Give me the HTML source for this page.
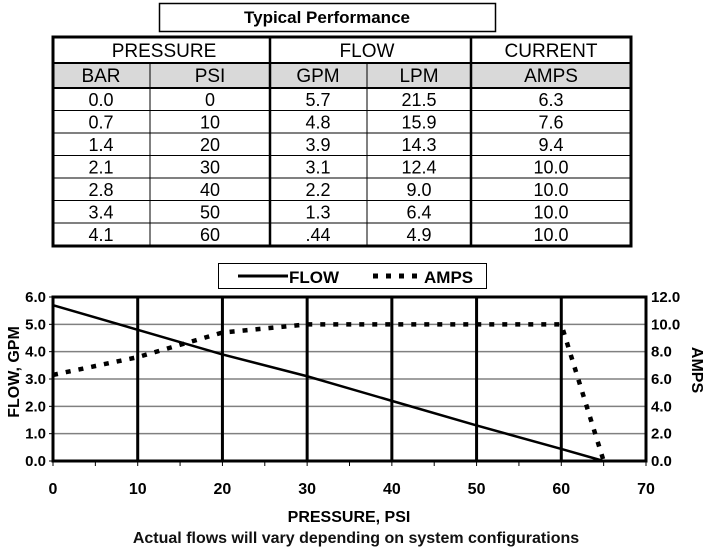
<!DOCTYPE html>
<html><head><meta charset="utf-8"><style>
body{margin:0;background:#fff;width:708px;height:550px;overflow:hidden;font-family:"Liberation Sans",Arial,sans-serif}
svg{display:block}
</style></head><body>
<svg id="s" width="708" height="550" xmlns="http://www.w3.org/2000/svg">
<g>
<rect x="159.5" y="3.5" width="336" height="28" fill="#fff" stroke="#000" stroke-width="1.5"/>
<text x="327" y="23" font-size="17" font-weight="bold" text-anchor="middle">Typical Performance</text>
</g>
<g id="tbl"></g>
<g id="chart"></g>
</svg>
<script>
const psi=[0,10,20,30,40,50,60,65];
const flowGpm=[5.7,4.8,3.9,3.1,2.2,1.3,0.44,0];
const amps=[6.3,7.6,9.4,10,10,10,10,0];
const xTicks=[0,10,20,30,40,50,60,70];
const yLeftTicks=[0,1,2,3,4,5,6];
const yRightTicks=[0,2,4,6,8,10,12];
const tableRows=[["0.0","0","5.7","21.5","6.3"],["0.7","10","4.8","15.9","7.6"],["1.4","20","3.9","14.3","9.4"],["2.1","30","3.1","12.4","10.0"],["2.8","40","2.2","9.0","10.0"],["3.4","50","1.3","6.4","10.0"],["4.1","60",".44","4.9","10.0"]];

const NS="http://www.w3.org/2000/svg";
function mk(p,tag,a,txt){const e=document.createElementNS(NS,tag);for(const k in a)e.setAttribute(k,a[k]);if(txt!==undefined)e.textContent=txt;p.appendChild(e);return e;}

// table
const T=document.getElementById('tbl');
const L=53,R=631;
const rowY=[37,63,88,110.5,133,155.5,178,200.5,223,245.5];
mk(T,'rect',{x:L,y:63,width:R-L,height:25,fill:'#d9d9d9'});
for(let i=2;i<rowY.length-1;i++)mk(T,'line',{x1:L,x2:R,y1:rowY[i],y2:rowY[i],stroke:'#000','stroke-width':1});
mk(T,'line',{x1:L,x2:R,y1:63,y2:63,stroke:'#000','stroke-width':2});
mk(T,'line',{x1:L,x2:R,y1:88,y2:88,stroke:'#000','stroke-width':2});
[150,367].forEach(x=>mk(T,'line',{x1:x,x2:x,y1:63,y2:246,stroke:'#000','stroke-width':1}));
[270,471].forEach(x=>mk(T,'line',{x1:x,x2:x,y1:37,y2:246,stroke:'#000','stroke-width':2.5}));
mk(T,'rect',{x:L,y:37,width:R-L,height:209,fill:'none',stroke:'#000','stroke-width':3});
const h1=[["PRESSURE",164],["FLOW",367],["CURRENT",551]];
h1.forEach(h=>{const t=mk(T,'text',{x:h[1],y:57,'font-size':19,'text-anchor':'middle'},h[0]);});
const h2=["BAR","PSI","GPM","LPM","AMPS"];
const cx=[101,210,318,419,551];
h2.forEach((h,i)=>{const t=mk(T,'text',{x:cx[i],y:82,'font-size':19,'text-anchor':'middle'},h);});
tableRows.forEach((r,ri)=>r.forEach((v,ci)=>{const t=mk(T,'text',{x:cx[ci],y:rowY[ri+2]+18,'font-size':18,'text-anchor':'middle'},v);}));

// chart
const C=document.getElementById('chart');
const X0=53,X1=646,Y0=461,Y1=297;
const xs=v=>X0+(v/70)*(X1-X0);
const yl=v=>Y0-(v/6)*(Y0-Y1);
const yr=v=>Y0-(v/12)*(Y0-Y1);
const lg=mk(C,'g',{});
mk(lg,'rect',{x:218.5,y:263.5,width:268,height:25,fill:'#fff',stroke:'#000','stroke-width':1});
mk(lg,'line',{x1:238,x2:288,y1:276,y2:276,stroke:'#000','stroke-width':3});
mk(lg,'text',{x:289,y:283,'font-size':17,'font-weight':'bold'},'FLOW');
mk(lg,'line',{x1:373,x2:422,y1:276,y2:276,stroke:'#000','stroke-width':5,'stroke-dasharray':'5 8'});
mk(lg,'text',{x:424,y:283,'font-size':17,'font-weight':'bold'},'AMPS');
yLeftTicks.forEach(v=>{const l=mk(C,'line',{x1:X0,x2:X1,y1:yl(v),y2:yl(v),stroke:'#808080','stroke-width':1.5});});
xTicks.slice(1,-1).forEach(v=>{const l=mk(C,'line',{x1:xs(v),x2:xs(v),y1:Y1,y2:Y0,stroke:'#000','stroke-width':3});});
mk(C,'rect',{x:X0,y:Y1,width:X1-X0,height:Y0-Y1,fill:'none',stroke:'#000','stroke-width':3});
for(let v=0;v<=70;v+=5)mk(C,'line',{x1:xs(v),x2:xs(v),y1:Y0,y2:Y0+5,stroke:'#000','stroke-width':1});
xTicks.forEach(v=>{const t=mk(C,'text',{x:xs(v),y:494,'font-size':16,'font-weight':'bold','text-anchor':'middle'},String(v));});
yLeftTicks.forEach(v=>{const t=mk(C,'text',{x:46,y:yl(v)+5,'font-size':15,'font-weight':'bold','text-anchor':'end'},v.toFixed(1));mk(C,'line',{x1:X0-4,x2:X0,y1:yl(v),y2:yl(v),stroke:'#000'});});
yRightTicks.forEach(v=>{const t=mk(C,'text',{x:651,y:yr(v)+5,'font-size':15,'font-weight':'bold'},v.toFixed(1));});
let t=mk(C,'text',{x:0,y:0,'font-size':16,'font-weight':'bold','text-anchor':'middle',transform:'translate(19,372) rotate(-90)'},'FLOW, GPM');
t=mk(C,'text',{x:0,y:0,'font-size':16,'font-weight':'bold','text-anchor':'middle',transform:'translate(692,370) rotate(90)'},'AMPS');
t=mk(C,'text',{x:349,y:522,'font-size':16,'font-weight':'bold','text-anchor':'middle'},'PRESSURE, PSI');
t=mk(C,'text',{x:356,y:543,'font-size':16,'font-weight':'bold','text-anchor':'middle','fill':'#111'},'Actual flows will vary depending on system configurations');
const fl=mk(C,'polyline',{points:psi.map((p,i)=>xs(p)+','+yl(flowGpm[i])).join(' '),fill:'none',stroke:'#000','stroke-width':2.5});

const am=mk(C,'polyline',{points:psi.map((p,i)=>xs(p)+','+yr(amps[i])).join(' '),fill:'none',stroke:'#000','stroke-width':4.5,'stroke-dasharray':'5 8'});

</script>
</body></html>
